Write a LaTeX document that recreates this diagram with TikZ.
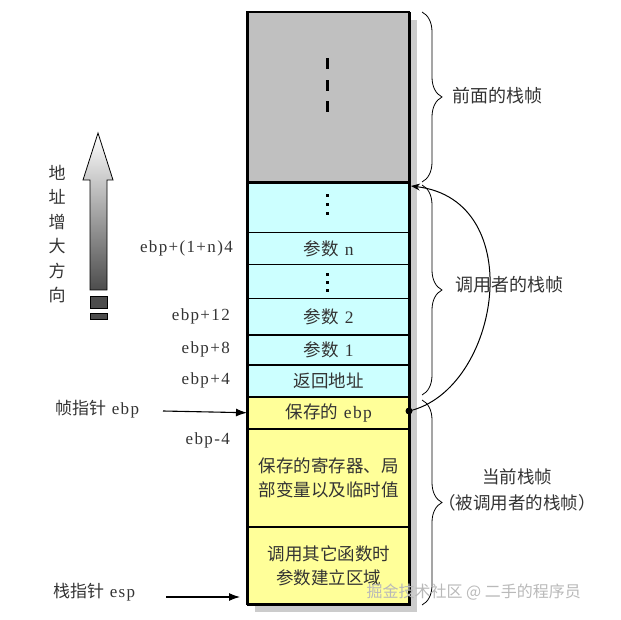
\documentclass[tikz,border=0pt]{standalone}
\usepackage{fontspec}
\setmainfont{Liberation Serif}[LetterSpace=8]
\newfontfamily\cjk{Noto Sans CJK SC}
\usetikzlibrary{arrows.meta,decorations.pathreplacing}
\definecolor{gr}{HTML}{C0C0C0}
\definecolor{cy}{HTML}{CCFFFF}
\definecolor{ye}{HTML}{FFFF99}
\definecolor{tx}{HTML}{333333}
\begin{document}
\begin{tikzpicture}[x=1pt,y=-1pt,
  cell/.style={draw=black,line width=1.5pt,minimum width=162pt,anchor=north west,inner sep=0pt,text=tx,font=\fontsize{17.5}{24.5}\selectfont,align=center},
  lab/.style={text=tx,font=\fontsize{17}{24}\selectfont,inner sep=0pt,align=center},
  ptr/.style={-{Latex[length=11pt,width=8pt]},line width=1.1pt},
  br/.style={decorate,decoration={brace,amplitude=20pt},line width=0.8pt}]
\useasboundingbox (0,0) rectangle (621,620);
% shadow
\fill[gray!40] (255,20) rectangle (417,612);
% cells
\node[cell,fill=gr,minimum height=171pt] (prev) at (247,12) {};
\node[cell,fill=cy,minimum height=49pt] (c1) at (247,183) {};
\node[cell,fill=cy,minimum height=32pt] (c2) at (247,232) {{\cjk 参数} n};
\node[cell,fill=cy,minimum height=34pt] (c3) at (247,264) {};
\node[cell,fill=cy,minimum height=36pt] (c4) at (247,298) {{\cjk 参数} 2};
\node[cell,fill=cy,minimum height=30pt] (c5) at (247,334) {{\cjk 参数} 1};
\node[cell,fill=cy,minimum height=32pt] (c6) at (247,364) {\cjk 返回地址};
\node[cell,fill=ye,minimum height=32pt] (y1) at (247,396) {{\cjk 保存的} ebp};
\node[cell,fill=ye,minimum height=98pt] (y2) at (247,428) {\cjk 保存的寄存器、局\\\cjk 部变量以及临时值};
\node[cell,fill=ye,minimum height=78pt] (y3) at (247,526) {\cjk 调用其它函数时\\\cjk 参数建立区域};
\draw[line width=2.5pt] (247,12) rectangle (409,604);
\draw[line width=3pt] (247,183) -- (409,183);
% dashes and dots
\foreach \y in {58,80,101} \fill (326,\y) rectangle (329,\y+11);
\foreach \y in {194,203,212} \fill (326,\y) rectangle (329,\y+3);
\foreach \y in {273,281,289} \fill (326,\y) rectangle (329,\y+3);
% left labels
\node[lab,anchor=east] (l1) at (233,248) {ebp+(1+n)4};
\node[lab,anchor=east] (l2) at (230,316) {ebp+12};
\node[lab,anchor=east] (l3) at (230,349) {ebp+8};
\node[lab,anchor=east] (l4) at (230,380) {ebp+4};
\node[lab,anchor=east] (l5) at (230,440) {ebp-4};
\node[lab,anchor=west] (fp) at (55,409) {{\cjk 帧指针} ebp};
\node[lab,anchor=west] (sp) at (53,592) {{\cjk 栈指针} esp};
\coordinate (fpa) at (163,411);
\coordinate (spa) at (166,597);
\coordinate (spb) at (240,597);
\draw[ptr] (fpa) -- (y1.west);
\draw[ptr] (spa) -- (spb);
% address arrow
\shade[top color=white,bottom color=gray!60!black,draw=black,line width=0.8pt]
  (98,133) -- (113,180) -- (107,180) -- (107,290) -- (90,290) -- (90,180) -- (83,180) -- cycle;
\fill[gray!60!black,draw=black,line width=0.6pt] (90,296) rectangle (107,308);
\fill[gray!60!black,draw=black,line width=0.6pt] (90,313) rectangle (107,319);
\node[lab,font=\fontsize{17}{24.5}\selectfont\cjk] (dir) at (57,234) {地\\址\\增\\大\\方\\向};
% braces
\draw[br] (422,12) -- (422,182);
\draw[br] (422,185) -- (422,395);
\draw[br] (422,400) -- (422,605);
\node[lab,anchor=west,font=\fontsize{18}{24}\selectfont\cjk] (t1) at (452,96) {前面的栈帧};
\node[lab,anchor=west,font=\fontsize{18}{24}\selectfont\cjk] (t2) at (455,285) {调用者的栈帧};
\node[lab,font=\fontsize{17.5}{26}\selectfont\cjk] (t3) at (517,490) {当前栈帧\\（被调用者的栈帧）};
% curved arrow
\coordinate (dot) at (409,411);
\coordinate (tip) at (411,186);
\fill (dot) circle (3.5pt);
\draw[-{Stealth[length=9pt,width=7pt]},line width=1pt] (dot) .. controls (500,390) and (530,200) .. (tip);
% watermark
\node[anchor=west,text=gray!55,font=\fontsize{16}{20}\selectfont\cjk] (wm) at (363,592) {掘金技术社区 @ 二手的程序员};
\end{tikzpicture}
\end{document}
